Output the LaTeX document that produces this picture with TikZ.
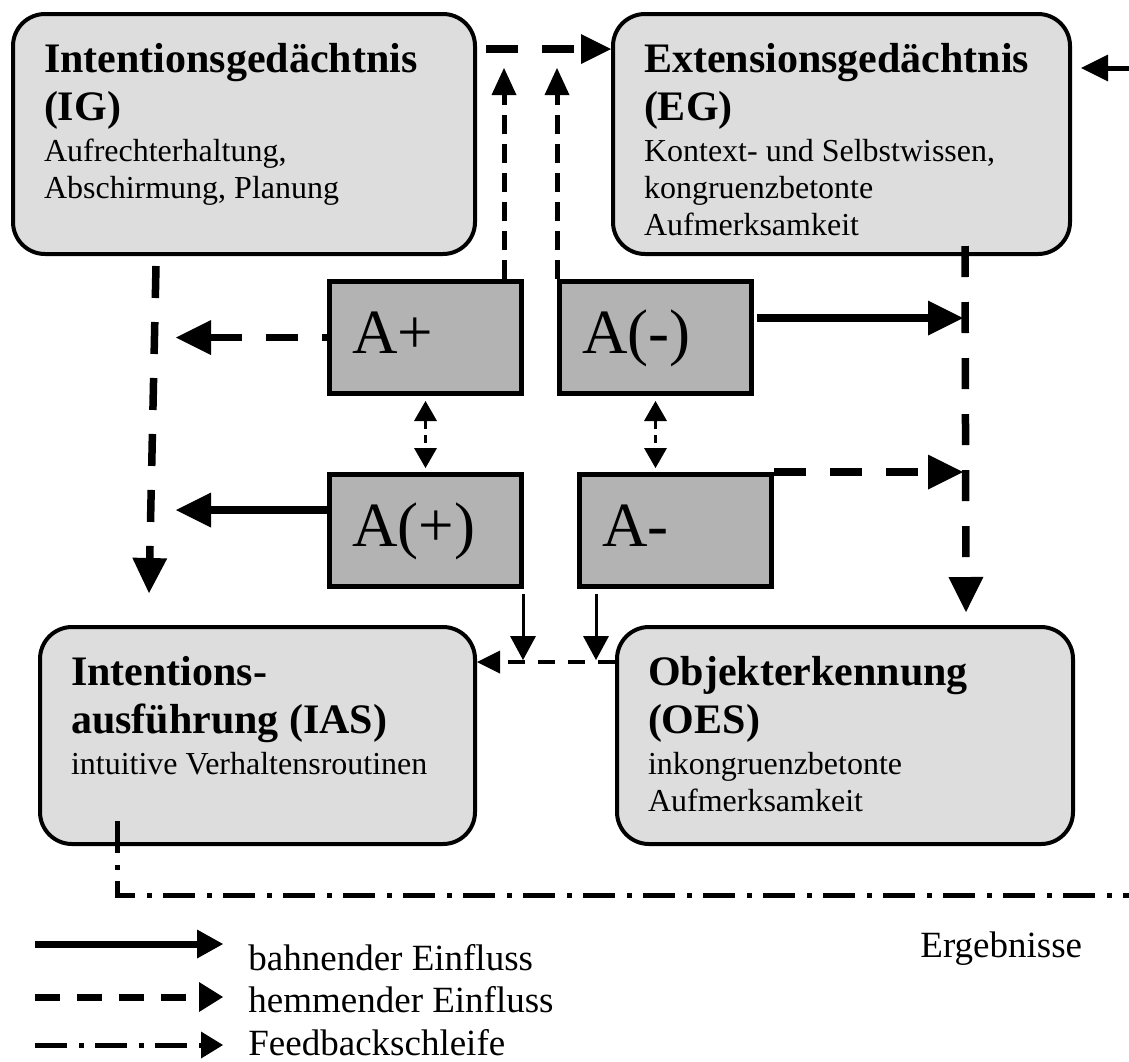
\documentclass[tikz,border=0pt]{standalone}
\usepackage{fontspec}
\setmainfont{Liberation Serif}
\usetikzlibrary{arrows.meta}
\definecolor{gedgrau}{HTML}{DDDDDD}
\definecolor{agrau}{HTML}{B3B3B3}
\newcommand{\gedinhalt}[4]{%
  \begin{minipage}[t][#2][t]{#1}\raggedright
    {\fontsize{21}{24}\selectfont\bfseries\rule{0pt}{15pt}#3\par}
    \vspace{2pt}
    {\fontsize{16}{18.5}\selectfont #4\par}
  \end{minipage}}
\tikzset{
  ged/.style={draw, line width=2pt, rounded corners=16pt, fill=gedgrau,
    anchor=north west, inner xsep=15.5pt, inner ysep=14pt},
  abox/.style={draw, line width=2.5pt, fill=agrau, anchor=north west,
    text width=73pt, align=left, inner xsep=11.5pt, minimum height=56pt,
    text height=22pt, text depth=6pt, font=\fontsize{31.5}{36}\selectfont},
  legende/.style={anchor=base west, inner sep=0pt, font=\fontsize{18.5}{22}\selectfont},
  bahnend/.style={line width=3.75pt,
    -{Triangle[length=17.5pt,width=17.5pt,line width=0pt]}},
  hemmend/.style={bahnend, dash pattern=on 16pt off 12pt},
  hemmduenn/.style={line width=2.5pt, dash pattern=on 9.5pt off 5pt,
    -{Triangle[length=13.5pt,width=12.5pt,line width=0pt]}},
  wechsel/.style={line width=1.5pt, dash pattern=on 4pt off 3pt,
    {Triangle[length=10pt,width=11.5pt,line width=0pt]}-{Triangle[length=10pt,width=11.5pt,line width=0pt]},
    shorten <=2.5pt, shorten >=2pt},
  bahnduenn/.style={line width=1.5pt,
    -{Triangle[length=12pt,width=13pt,line width=0pt]}},
  hemmklein/.style={line width=2pt, dash pattern=on 8.5pt off 6.5pt,
    -{Triangle[length=11.5pt,width=11.5pt,line width=0pt]}},
  feedback/.style={line width=2.5pt, dash pattern=on 16pt off 6pt on 2.5pt off 5.5pt}
}
\begin{document}
\begin{tikzpicture}[x=0.5pt,y=-0.5pt]
  \useasboundingbox (0,0) rectangle (1129,1061);
  \node[ged] (IG) at (11,12)
    {\gedinhalt{200pt}{92pt}{Intentionsgedächtnis\\(IG)}{Aufrechterhaltung,\\Abschirmung, Planung}};
  \node[ged] (EG) at (611,12)
    {\gedinhalt{197.5pt}{92pt}{Extensionsgedächtnis\\(EG)}{Kontext- und Selbstwissen,\\kongruenzbetonte\\Aufmerksamkeit}};
  \node[ged] (IAS) at (38,625)
    {\gedinhalt{186.5pt}{80.5pt}{Intentions-\\ausführung (IAS)}{intuitive Verhaltensroutinen}};
  \node[ged] (OES) at (615,625)
    {\gedinhalt{197pt}{80.5pt}{Objekterkennung\\(OES)}{inkongruenzbetonte\\Aufmerksamkeit}};
  \node[abox] (Aplus) at (327,279) {A+};
  \node[abox] (Aminusk) at (557,279) {A(-)};
  \node[abox] (Aplusk) at (327,472) {A(+)};
  \node[abox] (Aminus) at (577,472) {A-};
  \coordinate (igeg) at ([shift={(9,37)}]IG.north east);
  \coordinate (igd) at ([shift={(145,10)}]IG.south west);
  \coordinate (iasu) at ([shift={(111,-32)}]IAS.north west);
  \coordinate (egd) at ([shift={(-107,-10)}]EG.south east);
  \coordinate (oesu) at ([shift={(-109,-13)}]OES.north east);
  \coordinate (apk-l) at ([shift={(0,38)}]Aplusk.north west);
  \coordinate (amk-r) at ([shift={(3,39)}]Aminusk.north east);
  \coordinate (ap-o) at ([shift={(-20,0)}]Aplus.north east);
  \coordinate (oes-l) at ([shift={(0,37)}]OES.north west);
  \coordinate (apk-u) at ([shift={(-1,5)}]Aplusk.south east);
  \coordinate (am-u) at ([shift={(19,5)}]Aminus.south west);
  \coordinate (fb-a) at ([shift={(79,-25)}]IAS.south west);
  \coordinate (fb-e) at (1129,895);
  \coordinate (fb-ein) at (1129,68);
  \draw[hemmend, -{Triangle[length=15pt,width=15pt,line width=0pt]}] (igeg) -- (igeg -| EG.west);
  \draw[hemmend] (igd) -- (iasu);
  \draw[hemmend, dash pattern=on 15.5pt off 12.5pt] (egd) -- (oesu);
  \draw[hemmend, dash phase=13.5pt, shorten >=10pt] (Aplus.west) -- (Aplus.west -| igd);
  \draw[bahnend, shorten >=10pt] (apk-l) -- (apk-l -| igd);
  \draw[bahnend, shorten >=1pt] (amk-r) -- (amk-r -| egd);
  \draw[hemmend, shorten >=1pt] (Aminus.north east) -- (Aminus.north east -| egd);
  \draw[hemmduenn, shorten >=9.5pt] (ap-o) -- (ap-o |- igeg);
  \draw[hemmduenn, shorten >=9.5pt] (Aminusk.north west) -- (Aminusk.north west |- igeg);
  \draw[wechsel] (Aplus.south) -- (Aplusk.north);
  \draw[wechsel] (Aminusk.south) -- (Aminusk.south |- Aminus.north);
  \draw[bahnduenn, shorten >=1pt] (apk-u) -- (apk-u |- oes-l);
  \draw[bahnduenn, shorten >=1pt] (am-u) -- (am-u |- oes-l);
  \draw[hemmklein] (oes-l) -- (oes-l -| IAS.east);
  \draw[feedback] (fb-a) |- (fb-e);
  \draw[feedback, -{Triangle[length=13.5pt,width=13.5pt,line width=0pt]}, shorten >=4.5pt]
    (fb-ein) -- (fb-ein -| EG.east);
  \node[legende] (l-bahn) at (248,970) {bahnender Einfluss};
  \node[legende] (l-hemm) at (248,1012) {hemmender Einfluss};
  \node[legende] (l-fb) at (248,1055) {Feedbackschleife};
  \node[legende] (erg) at (920,957) {Ergebnisse};
  \coordinate (lg1) at (35,944);
  \coordinate (lg2) at (35,997);
  \coordinate (lg3) at (35,1045);
  \draw[bahnend, line width=3.5pt, -{Triangle[length=13pt,width=14.5pt,line width=0pt]},
    shorten >=12.5pt] (lg1) -- (lg1 -| l-bahn.west);
  \draw[hemmend, line width=3.5pt, dash pattern=on 12.5pt off 8.5pt,
    -{Triangle[length=12pt,width=15pt,line width=0pt]}, shorten >=12.5pt] (lg2) -- (lg2 -| l-hemm.west);
  \draw[feedback, -{Triangle[length=11pt,width=13.5pt,line width=0pt]},
    shorten >=12.5pt] (lg3) -- (lg3 -| l-fb.west);
\end{tikzpicture}
\end{document}
